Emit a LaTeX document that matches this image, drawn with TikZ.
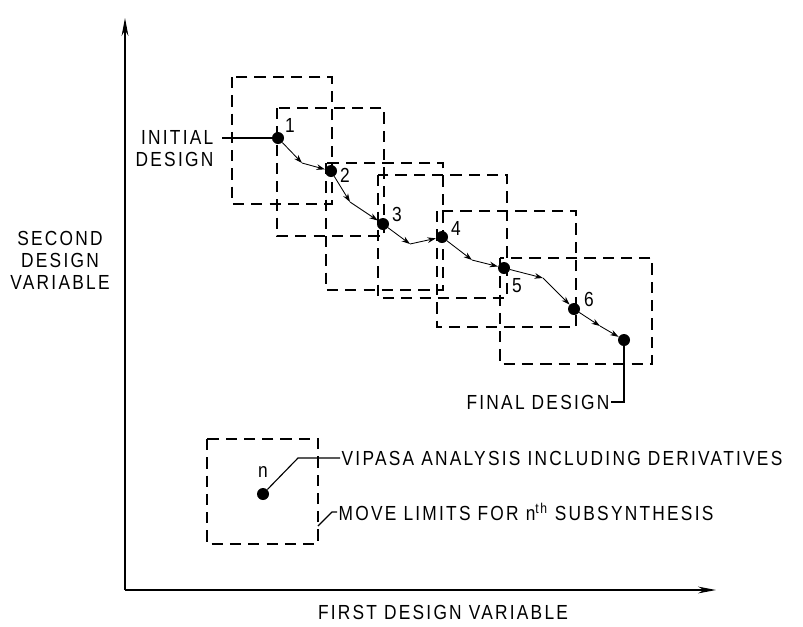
\documentclass[tikz,border=0pt]{standalone}
\usepackage{fontspec}
\newfontfamily\letterfont{Liberation Sans}[FakeStretch=0.85,LetterSpace=11]
\usetikzlibrary{arrows.meta}

\begin{document}
\begin{tikzpicture}[
    x=0.025cm, y=-0.025cm,
    every node/.style={font=\letterfont\fontsize{14.5}{15.6}\selectfont, inner sep=1pt},
    dot/.style={circle, fill, inner sep=0pt, minimum size=0.3cm},
    limit/.style={dash pattern=on 8pt off 5pt, line width=1pt},
    flow/.style={-{Stealth[length=6pt, width=4pt]}, line width=0.6pt},
    axis/.style={-{Stealth[length=0.45cm, width=0.17cm]}, line width=0.8pt},
    leader/.style={line width=0.8pt}
]
\useasboundingbox (0,0) rectangle (803,626);

% Axes
\coordinate (origin) at (125,590);
\coordinate (ytop) at (125,18);
\coordinate (xend) at (716,590);
\draw[axis] (origin) -- (ytop);
\draw[axis] (origin) -- (xend);
\node[align=center] (ylab) at (60,260) {SECOND\\DESIGN\\VARIABLE};
\node (xlab) at (443,612) {FIRST DESIGN VARIABLE};

% Move limits of each subsynthesis
\draw[limit] (232,77) rectangle (332,204);
\draw[limit] (277,108) rectangle (384,236);
\draw[limit] (326,163) rectangle (443,290);
\draw[limit] (378,175) rectangle (507,298);
\draw[limit] (437,211) rectangle (576,327);
\draw[limit] (500,258) rectangle (652,364);

% Design points
\node[dot] (p1) at (278,138) {};
\node[dot] (p2) at (331,171) {};
\node[dot] (p3) at (383,224) {};
\node[dot] (p4) at (442,237) {};
\node[dot] (p5) at (504,268) {};
\node[dot] (p6) at (574,309) {};
\node[dot] (pf) at (624,340) {};

\node (n1) at (290,125) {1};
\node (n2) at (345,175) {2};
\node (n3) at (397,214) {3};
\node (n4) at (456,228) {4};
\node (n5) at (517,286) {5};
\node (n6) at (589,299) {6};

% Path of the design
\coordinate (k12) at (302,163);
\coordinate (k23) at (350,202);
\coordinate (k34) at (410,244);
\coordinate (k45) at (472,260);
\coordinate (k56) at (543,278);
\coordinate (k6f) at (600,326);
\draw[flow] (p1) -- (k12);
\draw[flow] (k12) -- (p2);
\draw[flow] (p2) -- (k23);
\draw[flow] (k23) -- (p3);
\draw[flow] (p3) -- (k34);
\draw[flow] (k34) -- (p4);
\draw[flow] (p4) -- (k45);
\draw[flow] (k45) -- (p5);
\draw[flow] (p5) -- (k56);
\draw[flow] (k56) -- (p6);
\draw[flow] (p6) -- (k6f);
\draw[flow] (k6f) -- (pf);

% Initial and final design
\node[align=right, anchor=east] (init) at (215,149) {INITIAL\\DESIGN};
\coordinate (initend) at (222,138);
\draw[leader] (initend) -- (p1);
\node (fin) at (538,402) {FINAL DESIGN};
\draw[leader] (fin.east) -| (pf);

% Key
\draw[limit] (207,439) rectangle (318,544);
\node[dot] (pn) at (263,494) {};
\node (nn) at (263,472) {n};
\node[anchor=west] (vip) at (340,458) {VIPASA ANALYSIS INCLUDING DERIVATIVES};
\node[anchor=west] (mov) at (337,512) {MOVE LIMITS FOR n\textsuperscript{th} SUBSYNTHESIS};
\coordinate (vipbend) at (298,458);
\draw[leader] (pn) -- (vipbend) -- (vip.west);
\coordinate (limedge) at (318,526);
\coordinate (movbend) at (332,512);
\draw[leader] (limedge) -- (movbend) -- (mov.west);

\end{tikzpicture}
\end{document}
